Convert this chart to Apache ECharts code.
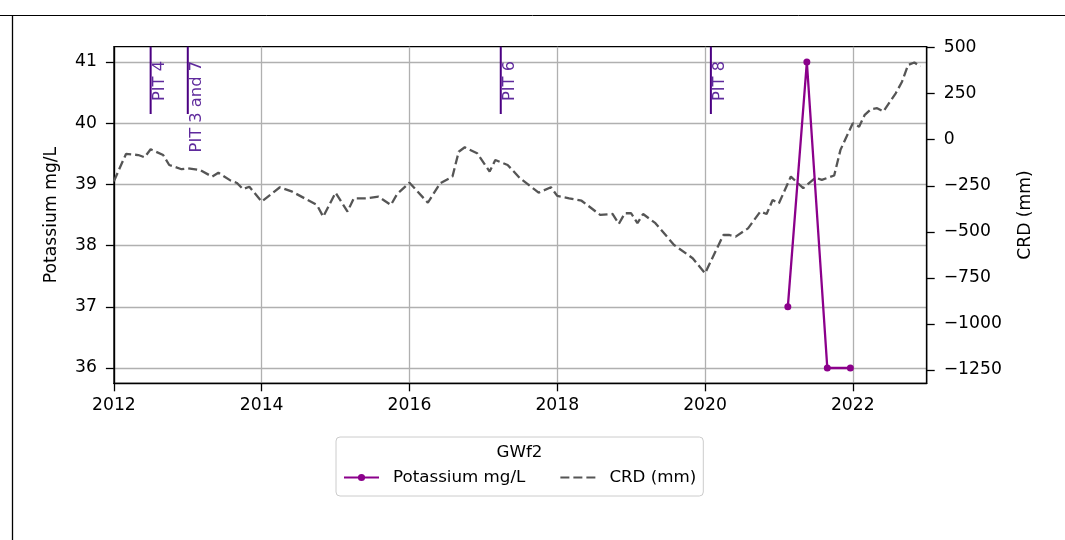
<!DOCTYPE html>
<html><head><meta charset="utf-8">
<script src="https://cdn.jsdelivr.net/npm/echarts@6/dist/echarts.min.js"></script>
<style>html,body{margin:0;padding:0;background:#fff}#c{width:1065px;height:540px}</style>
</head><body><div id="c"></div>
<script>
// ---- data ----
const crdDates = ['2012-01','2012-03','2012-05','2012-06','2012-07','2012-09','2012-10','2012-12',
  '2013-01','2013-03','2013-05','2013-06','2013-08','2013-09','2013-10','2013-11',
  '2014-01','2014-04','2014-06','2014-08','2014-10','2014-11',
  '2015-01','2015-03','2015-04','2015-06','2015-08','2015-10','2015-11',
  '2016-01','2016-04','2016-06','2016-08','2016-09','2016-10','2016-12',
  '2017-02','2017-03','2017-05','2017-07','2017-10','2017-12',
  '2018-01','2018-03','2018-05','2018-08','2018-10','2018-11','2018-12',
  '2019-01','2019-02','2019-03','2019-05','2019-08','2019-11',
  '2020-01','2020-04','2020-05','2020-06','2020-08','2020-10','2020-11','2020-12',
  '2021-01','2021-03','2021-05','2021-07','2021-08','2021-10','2021-11',
  '2022-01','2022-02','2022-03','2022-04','2022-05','2022-06','2022-08','2022-09','2022-10','2022-11','2022-12'];
const crdValues = [-225,-77,-83,-95,-52,-83,-137,-160,
  -155,-164,-200,-179,-222,-235,-268,-255,
  -336,-258,-282,-318,-354,-418,
  -287,-390,-318,-318,-309,-354,-295,
  -233,-342,-236,-200,-65,-41,-73,
  -173,-110,-137,-209,-287,-258,
  -305,-318,-331,-408,-403,-457,-399,
  -399,-453,-403,-453,-571,-643,
  -725,-517,-517,-526,-481,-390,-403,-327,
  -345,-200,-263,-206,-218,-194,-55,
  90,71,135,166,171,153,252,315,406,419,397];
const potassiumDates = ['2021-02-14','2021-05-19','2021-08-28','2021-12-20'];
const potassiumValues = [37,41,36,36];
const pitDates = ['2012-07-01','2013-01-01','2017-03-28','2020-01-30'];
const pitLabels = ['PIT 4','PIT 3 and 7','PIT 6','PIT 8'];
const xTicks = [2012,2014,2016,2018,2020,2022];
const leftTicks = [36,37,38,39,40,41];
const rightTicks = [-1250,-1000,-750,-500,-250,0,250,500];
const xRange = [2012, 2023];
const leftRange = [35.75, 41.25];
const rightRange = [-1322, 505];

function toYear(s){
  const p = s.split('-').map(Number);
  const y = p[0], m = p[1] || 1, d = p[2] || 1;
  const t = Date.UTC(y, m-1, d), a = Date.UTC(y,0,1), b = Date.UTC(y+1,0,1);
  return y + (t - a) / (b - a);
}
const FONT = '"DejaVu Sans", sans-serif';
const FS = 17.2;
const LFS = 16.7;
const minus = v => v < 0 ? '\u2212' + Math.abs(v) : String(v);

const chart = echarts.init(document.getElementById('c'), null, {renderer:'canvas'});
const axisLineStyle = {color:'#000', width:1.3};
const option = {
  animation:false,
  backgroundColor:'#fff',
  textStyle:{fontFamily:FONT},
  grid:{left:113.9, top:46.7, width:812.8, height:336.6, show:true, borderColor:'#000', borderWidth:1.3, containLabel:false},
  xAxis:{type:'value', min:xRange[0], max:xRange[1],
    axisLine:{show:true, onZero:false, lineStyle:axisLineStyle},
    axisTick:{show:true, customValues:xTicks, length:8, lineStyle:axisLineStyle},
    axisLabel:{customValues:xTicks, margin:14, color:'#000', fontSize:FS, fontFamily:FONT, formatter:v=>String(v)},
    splitLine:{show:true, lineStyle:{color:'#b0b0b0', width:1.3}}},
  yAxis:[
    {type:'value', position:'left', min:leftRange[0], max:leftRange[1],
     name:'Potassium mg/L', nameLocation:'middle', nameGap:54,
     nameTextStyle:{fontSize:FS, color:'#000', fontFamily:FONT},
     axisLine:{show:true, onZero:false, lineStyle:axisLineStyle},
     axisTick:{show:true, customValues:leftTicks, length:8, lineStyle:axisLineStyle},
     axisLabel:{customValues:leftTicks, margin:17, color:'#000', fontSize:FS, fontFamily:FONT},
     splitLine:{show:true, lineStyle:{color:'#b0b0b0', width:1.3}}},
    {type:'value', position:'right', min:rightRange[0], max:rightRange[1],
     name:'CRD (mm)', nameLocation:'middle', nameGap:90,
     nameTextStyle:{fontSize:FS, color:'#000', fontFamily:FONT},
     axisLine:{show:true, onZero:false, lineStyle:axisLineStyle},
     axisTick:{show:true, customValues:rightTicks, length:8, lineStyle:axisLineStyle},
     axisLabel:{customValues:rightTicks, margin:17, color:'#000', fontSize:FS, fontFamily:FONT, formatter:minus},
     splitLine:{show:false}}
  ],
  legend:{
    data:[{name:'Potassium mg/L'},
          {name:'CRD (mm)', itemStyle:{color:'rgba(0,0,0,0)', borderWidth:0, opacity:0}}],
    left:336, top:437, orient:'horizontal',
    padding:[32,7,10,7], itemGap:34, itemWidth:35, itemHeight:9,
    borderColor:'#cccccc', borderWidth:1, borderRadius:4, backgroundColor:'#fff',
    textStyle:{fontSize:LFS, color:'#000', fontFamily:FONT, padding:[0,0,0,9]}
  },
  graphic:[
    {type:'line', shape:{x1:0, y1:15.5, x2:1065, y2:15.5}, style:{stroke:'#000', lineWidth:1}, z:100},
    {type:'line', shape:{x1:12.5, y1:15.5, x2:12.5, y2:540}, style:{stroke:'#000', lineWidth:1.3}, z:100},
    {type:'text', x:519.5, y:453, style:{text:'GWf2', font:LFS+'px '+FONT, fill:'#000', align:'center', verticalAlign:'middle'}, z:100}
  ],
  series:[
    {name:'CRD (mm)', type:'line', yAxisIndex:1, symbol:'none', showSymbol:false,
     data:crdDates.map((d,i)=>[toYear(d+'-01'), crdValues[i]]),
     color:'#555555', lineStyle:{type:[9,4], width:2.3, color:'#555555'}, z:2},
    {name:'Potassium mg/L', type:'line', yAxisIndex:0, symbol:'circle', symbolSize:7, showSymbol:true,
     data:potassiumDates.map((d,i)=>[toYear(d), potassiumValues[i]]),
     color:'#8b008b', itemStyle:{color:'#8b008b'}, lineStyle:{width:2.3, color:'#8b008b'}, z:3},
    {name:'pits', type:'custom', yAxisIndex:0, silent:true, clip:false, z:4,
     data:pitDates.map(d=>[toYear(d), leftRange[1]]),
     renderItem:function(params, api){
       const x = api.value(0);
       const top = api.coord([x, leftRange[1]]);
       const bot = api.coord([x, leftRange[0] + 0.8*(leftRange[1]-leftRange[0])]);
       const lab = api.coord([x, 41]);
       return {type:'group', children:[
         {type:'line', shape:{x1:top[0], y1:top[1], x2:bot[0], y2:bot[1]}, style:{stroke:'#4b0082', lineWidth:2}},
         {type:'text', x:lab[0]+1, y:lab[1]-1, rotation:Math.PI/2,
          style:{text:pitLabels[params.dataIndex], fill:'#5f2a9c', font:'16.3px '+FONT, align:'right', verticalAlign:'top'}}
       ]};
     }}
  ]
};
chart.setOption(option);
</script></body></html>
